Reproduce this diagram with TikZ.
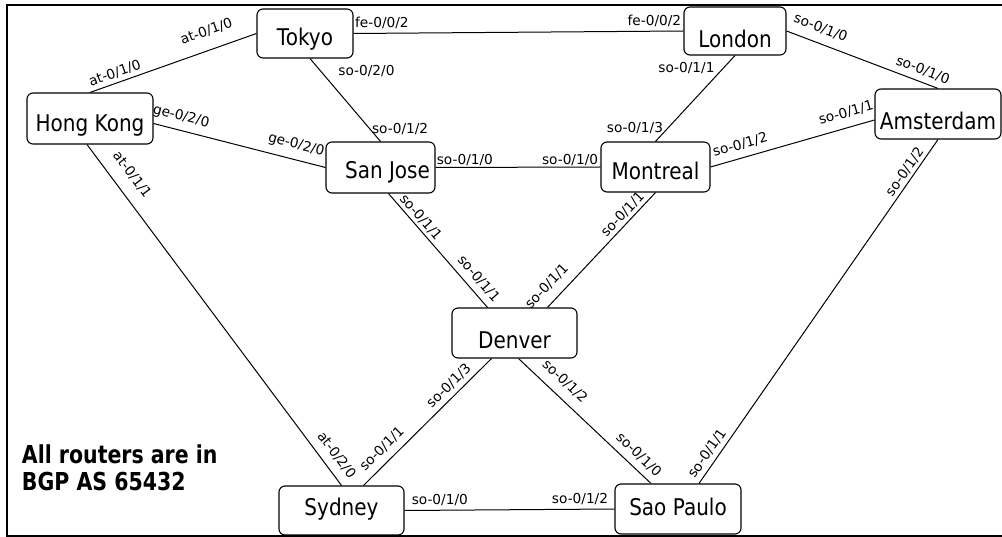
\documentclass[tikz,border=0pt]{standalone}
\usepackage{fontspec}
\newfontfamily\nodefont{DejaVu Sans}[FakeStretch=0.87]
\newfontfamily\labfont{DejaVu Sans}
\newfontfamily\notefont{DejaVu Sans}[FakeStretch=0.83]
\begin{document}
\begin{tikzpicture}[x=1pt,y=-1pt,
  router/.style={draw, line width=1.1pt, rounded corners=6pt, inner sep=2pt,
    text depth=0pt, font=\nodefont\fontsize{23}{26}\selectfont},
  rsize/.style n args={2}{minimum width=#1pt, minimum height=#2pt},
  link/.style={line width=1pt},
  ifc/.style={font=\labfont\fontsize{13.7}{15}\selectfont, inner sep=1pt},
  note/.style={font=\notefont\bfseries\fontsize{24.7}{27}\selectfont,
    anchor=base west, inner sep=0pt}
]
\useasboundingbox (0,0) rectangle (1002,537);

% frame
\draw[line width=1.6pt] (1002,5) -- (7,5) -- (7,536) -- (1002,536);

% routers
\node[router, rsize={96}{49},  text height=23.8pt] (tk) at (305,33.5)  {Tokyo};
\node[router, rsize={126}{51}, text height=26.8pt] (hk) at (90,118.5)  {Hong Kong};
\node[router, rsize={109}{51}, text height=21.8pt] (sj) at (380.5,167.5) {\hspace*{14pt}San Jose};
\node[router, rsize={109}{50}, text height=24.8pt] (mt) at (655.5,167)  {Montreal};
\node[router, rsize={102}{48}, text height=32.8pt] (ld) at (735,31)     {London};
\node[router, rsize={126}{50}, text height=31.8pt] (am) at (938,114)    {Amsterdam};
\node[router, rsize={125}{50}, text height=30.8pt] (dv) at (514.5,333)  {Denver};
\node[router, rsize={125}{49}, text height=10.8pt] (sy) at (341.5,510.5) {Sydney};
\node[router, rsize={126}{50}, text height=13.8pt] (sp) at (678,509)    {Sao Paulo};

% links with interface names
\draw[link] (hk.north) -- (tk.west)
  node[ifc, pos=.169, sloped, above=2.7pt] (i1a) {at-0/1/0}
  node[ifc, pos=.737, sloped, above=11.4pt] (i1b) {at-0/1/0};
\draw[link] (tk.east) -- (ld.west)
  node[ifc, pos=.086, above=2.7pt] (i2a) {fe-0/0/2}
  node[ifc, pos=.912, above=2.7pt] (i2b) {fe-0/0/2};
\draw[link] ([xshift=5pt]tk.south) -- (sj.north)
  node[ifc, pos=.155, right=16pt] (i3a) {so-0/2/0}
  node[ifc, pos=.845, right=1pt] (i3b) {so-0/1/2};
\draw[link] ([yshift=-5pt]hk.east) -- (sj.west)
  node[ifc, pos=.141, sloped, above=5.5pt] (i4a) {ge-0/2/0}
  node[ifc, pos=.809, sloped, above=6.6pt] (i4b) {ge-0/2/0};
\draw[link] (sj.east) -- (mt.west)
  node[ifc, pos=.178, above=0.3pt] (i5a) {so-0/1/0}
  node[ifc, pos=.816, above=0.3pt] (i5b) {so-0/1/0};
\draw[link] (ld.south) -- (mt.north)
  node[ifc, pos=.151, left=7pt] (i6a) {so-0/1/1}
  node[ifc, pos=.849, left=3pt] (i6b) {so-0/1/3};
\draw[link] (ld.east) -- (am.north)
  node[ifc, pos=.19, sloped, above=7.9pt] (i7a) {so-0/1/0}
  node[ifc, pos=.872, sloped, above=4.6pt] (i7b) {so-0/1/0};
\draw[link] (mt.east) -- ([yshift=-6pt]am.west)
  node[ifc, pos=.203, sloped, above=5.9pt] (i8a) {so-0/1/2}
  node[ifc, pos=.851, sloped, above=7.4pt] (i8b) {so-0/1/1};
\draw[link] (am.south) -- ([xshift=21pt]sp.north)
  node[ifc, pos=.109, sloped, above=1.5pt] (i9a) {so-0/1/2}
  node[ifc, pos=.93, sloped, above=3.3pt] (i9b) {so-0/1/1};
\draw[link] ([xshift=-3pt]hk.south) -- (sy.north)
  node[ifc, pos=.12, sloped, above=11pt] (i10a) {at-0/1/1}
  node[ifc, pos=.936, sloped, above=7pt] (i10b) {at-0/2/0};
\draw[link] ([xshift=8pt]sj.south) -- ([xshift=-27pt]dv.north)
  node[ifc, pos=.26, sloped, above=1.5pt] (i11a) {so-0/1/1}
  node[ifc, pos=.819, sloped, above=5pt] (i11b) {so-0/1/1};
\draw[link] (mt.south) -- ([xshift=33pt]dv.north)
  node[ifc, pos=.244, sloped, above=1.7pt] (i12a) {so-0/1/1}
  node[ifc, pos=.905, sloped, above=7.9pt] (i12b) {so-0/1/1};
\draw[link] ([xshift=-23pt]dv.south) -- ([xshift=22pt]sy.north)
  node[ifc, pos=.275, sloped, above=3.5pt] (i13a) {so-0/1/3}
  node[ifc, pos=.785, sloped, above=5.9pt] (i13b) {so-0/1/1};
\draw[link] ([xshift=4pt]dv.south) -- ([xshift=-27pt]sp.north)
  node[ifc, pos=.272, sloped, above=8pt] (i14a) {so-0/1/2}
  node[ifc, pos=.843, sloped, above=5.3pt] (i14b) {so-0/1/0};
\draw[link] (sy.east) -- (sp.west)
  node[ifc, pos=.168, above=3pt] (i15a) {so-0/1/0}
  node[ifc, pos=.836, above=3pt] (i15b) {so-0/1/2};

% note
\node[note] (n1) at (21.7,463) {All routers are in};
\node[note] (n2) at (21.7,490) {BGP AS 65432};
\end{tikzpicture}
\end{document}
